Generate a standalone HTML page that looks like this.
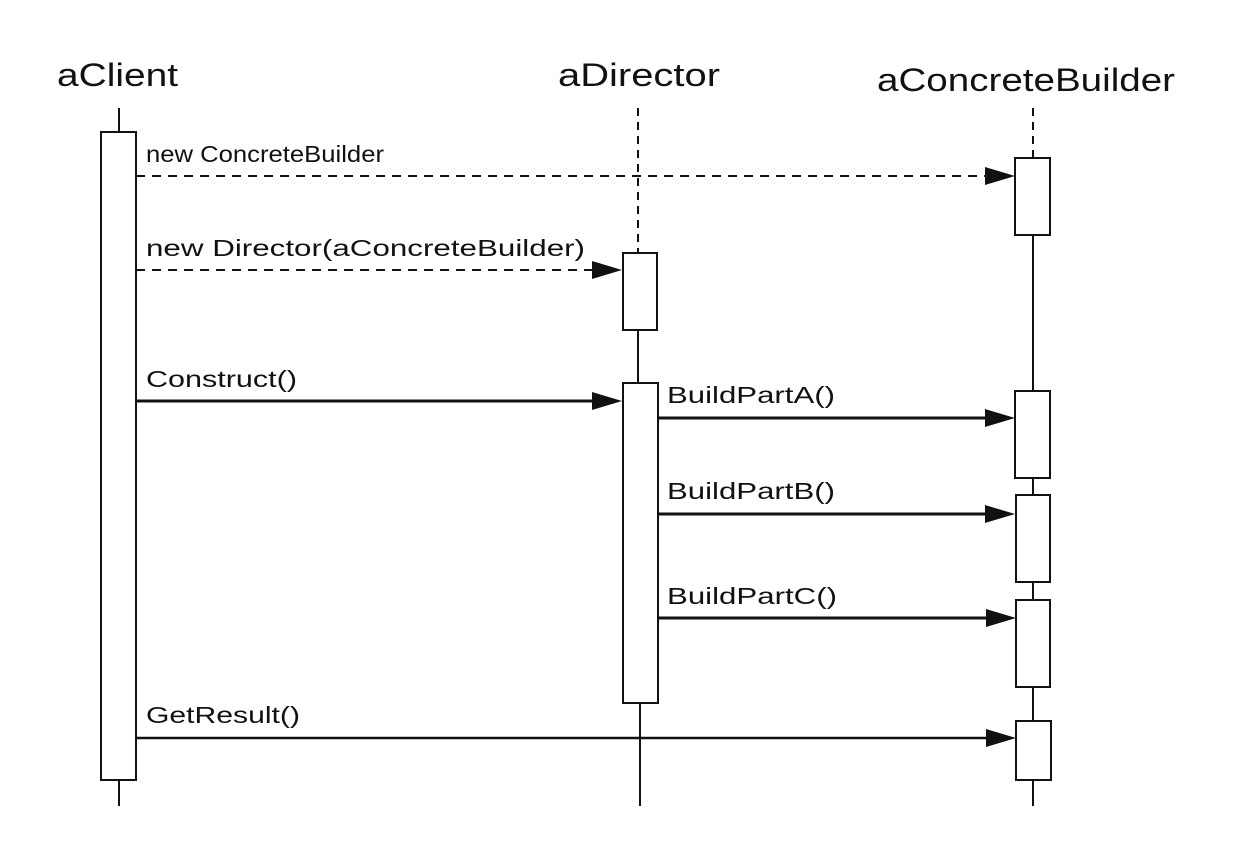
<!DOCTYPE html>
<html><head><style>
html,body{margin:0;padding:0;background:#fff}
svg{display:block}
text{font-family:"Liberation Sans",Arial,sans-serif;fill:#111}
</style></head><body>
<svg width="1238" height="858" viewBox="0 0 1238 858" xmlns="http://www.w3.org/2000/svg">
<g font-size="32">
<text x="57" y="86" textLength="121" lengthAdjust="spacingAndGlyphs">aClient</text>
<text x="558" y="86" textLength="162" lengthAdjust="spacingAndGlyphs">aDirector</text>
<text x="877" y="91" textLength="298" lengthAdjust="spacingAndGlyphs">aConcreteBuilder</text>
</g>
<g stroke="#111" stroke-width="2" fill="none">
<line x1="119" y1="108" x2="119" y2="132"/>
<line x1="119" y1="780" x2="119" y2="806"/>
<rect x="101" y="132" width="35" height="648" fill="#fff"/>
<line x1="638" y1="108" x2="638" y2="253" stroke-dasharray="8,6"/>
<rect x="623" y="253" width="34" height="77" fill="#fff"/>
<line x1="638" y1="330" x2="638" y2="383"/>
<rect x="623" y="383" width="35" height="320" fill="#fff"/>
<line x1="640" y1="703" x2="640" y2="806"/>
<line x1="1033" y1="108" x2="1033" y2="158" stroke-dasharray="8,6"/>
<rect x="1015" y="158" width="35" height="77" fill="#fff"/>
<line x1="1033" y1="235" x2="1033" y2="391"/>
<rect x="1015" y="391" width="35" height="87" fill="#fff"/>
<line x1="1033" y1="478" x2="1033" y2="495"/>
<rect x="1016" y="495" width="34" height="87" fill="#fff"/>
<line x1="1033" y1="582" x2="1033" y2="600"/>
<rect x="1016" y="600" width="34" height="87" fill="#fff"/>
<line x1="1033" y1="687" x2="1033" y2="721"/>
<rect x="1016" y="721" width="35" height="59" fill="#fff"/>
<line x1="1033" y1="780" x2="1033" y2="806"/>
<line x1="136" y1="176" x2="990" y2="176" stroke-dasharray="9,7"/>
<line x1="136" y1="270" x2="598" y2="270" stroke-dasharray="9,7"/>
<line x1="136" y1="401" x2="598" y2="401" stroke-width="3"/>
<line x1="658" y1="418" x2="990" y2="418" stroke-width="3"/>
<line x1="658" y1="514" x2="990" y2="514" stroke-width="3"/>
<line x1="658" y1="618" x2="990" y2="618" stroke-width="3"/>
<line x1="136" y1="738" x2="990" y2="738" stroke-width="2.5"/>
</g>
<g fill="#111">
<polygon points="985,167 1015,176 985,185"/>
<polygon points="592,261 622,270 592,279"/>
<polygon points="592,392 622,401 592,410"/>
<polygon points="985,409 1015,418 985,427"/>
<polygon points="985,505 1015,514 985,523"/>
<polygon points="986,609 1016,618 986,627"/>
<polygon points="986,729 1016,738 986,747"/>
</g>
<g font-size="23">
<text x="146" y="162" textLength="238" lengthAdjust="spacingAndGlyphs">new ConcreteBuilder</text>
<text x="146" y="256" textLength="439" lengthAdjust="spacingAndGlyphs">new Director(aConcreteBuilder)</text>
<text x="146" y="387" textLength="151" lengthAdjust="spacingAndGlyphs">Construct()</text>
<text x="667" y="403" textLength="168" lengthAdjust="spacingAndGlyphs">BuildPartA()</text>
<text x="667" y="499" textLength="168" lengthAdjust="spacingAndGlyphs">BuildPartB()</text>
<text x="667" y="604" textLength="170" lengthAdjust="spacingAndGlyphs">BuildPartC()</text>
<text x="146" y="723" textLength="154" lengthAdjust="spacingAndGlyphs">GetResult()</text>
</g>
</svg>
</body></html>
